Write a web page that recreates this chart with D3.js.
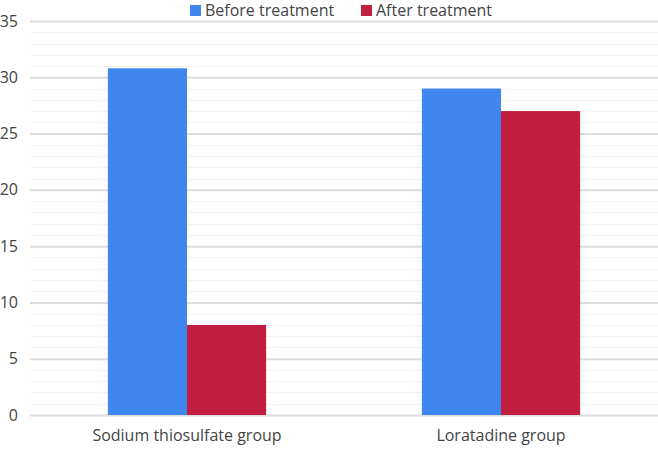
<!DOCTYPE html>
<html>
<head>
<meta charset="utf-8">
<script src="https://cdn.jsdelivr.net/npm/d3@7"></script>
<style>
body{margin:0;background:#fff;}
text{font-family:"Open Sans","Noto Sans",sans-serif;}
</style>
</head>
<body>
<svg></svg>
<script>
var groups=["Sodium thiosulfate group","Loratadine group"]
var series=["Before treatment","After treatment"]
var before=[30.8,29]
var after=[8,27]
var yTicks=[0,5,10,15,20,25,30,35]
var colors=["#3f86ef","#c21f40"]

var screen={width:658,height:451}
var margins={top:21,right:0,bottom:36,left:30}

var svg=d3.select("svg")
.attr("width",screen.width)
.attr("height",screen.height)

var width=screen.width-margins.left-margins.right
var height=screen.height-margins.top-margins.bottom

var graph=svg.append("g")
.attr("transform","translate("+margins.left+","+margins.top+")")

var xScale=d3.scaleBand()
.domain(groups)
.range([0,width])
.paddingInner(0)
.paddingOuter(0)

var yScale=d3.scaleLinear()
.domain([0,35])
.range([height,0])

var subScale=d3.scaleBand()
.domain(series)
.range([xScale.bandwidth()*0.248,xScale.bandwidth()*0.752])

// minor gridlines every unit
graph.append("g")
.selectAll("line")
.data(d3.range(0,36).filter(function(v){return v%5!=0}))
.enter()
.append("line")
.attr("x1",0).attr("x2",width)
.attr("y1",function(v){return Math.round(yScale(v))+0.5})
.attr("y2",function(v){return Math.round(yScale(v))+0.5})
.attr("stroke","#f3f3f3")
.attr("stroke-width",1)

var yAxis=d3.axisLeft(yScale).tickValues(yTicks).tickSize(-width).tickPadding(12)
var ax=graph.append("g").call(yAxis)
ax.select(".domain").remove()
ax.selectAll(".tick line").attr("stroke","#dcdcdc").attr("stroke-width",2)
ax.selectAll(".tick text").attr("fill","#444").style("font-size","16px")

var rows=groups.map(function(g,i){return {group:g,values:[before[i],after[i]]}})

var grp=graph.selectAll(".grp")
.data(rows)
.enter()
.append("g")
.attr("transform",function(d){return "translate("+xScale(d.group)+",0)"})

grp.selectAll("rect")
.data(function(d){return d.values.map(function(v,j){return {s:series[j],v:v,j:j}})})
.enter()
.append("rect")
.attr("x",function(d){return subScale(d.s)})
.attr("width",subScale.bandwidth())
.attr("y",function(d){return yScale(d.v)})
.attr("height",function(d){return height-yScale(d.v)})
.attr("fill",function(d){return colors[d.j]})

var xAxis=d3.axisBottom(xScale).tickSize(0).tickPadding(15)
var bx=graph.append("g").attr("transform","translate(0,"+height+")").call(xAxis)
bx.select(".domain").remove()
bx.selectAll(".tick text").attr("fill","#444").style("font-size","16px")

// legend
var legendX=[190,361]
var legend=svg.selectAll(".leg")
.data(series)
.enter()
.append("g")
.attr("transform",function(d,i){return "translate("+legendX[i]+",5)"})
legend.append("rect")
.attr("width",11).attr("height",11)
.attr("fill",function(d,i){return colors[i]})
legend.append("text")
.attr("x",15).attr("y",11)
.attr("fill","#444")
.style("font-size","16px")
.text(function(d){return d})
</script>
</body>
</html>
